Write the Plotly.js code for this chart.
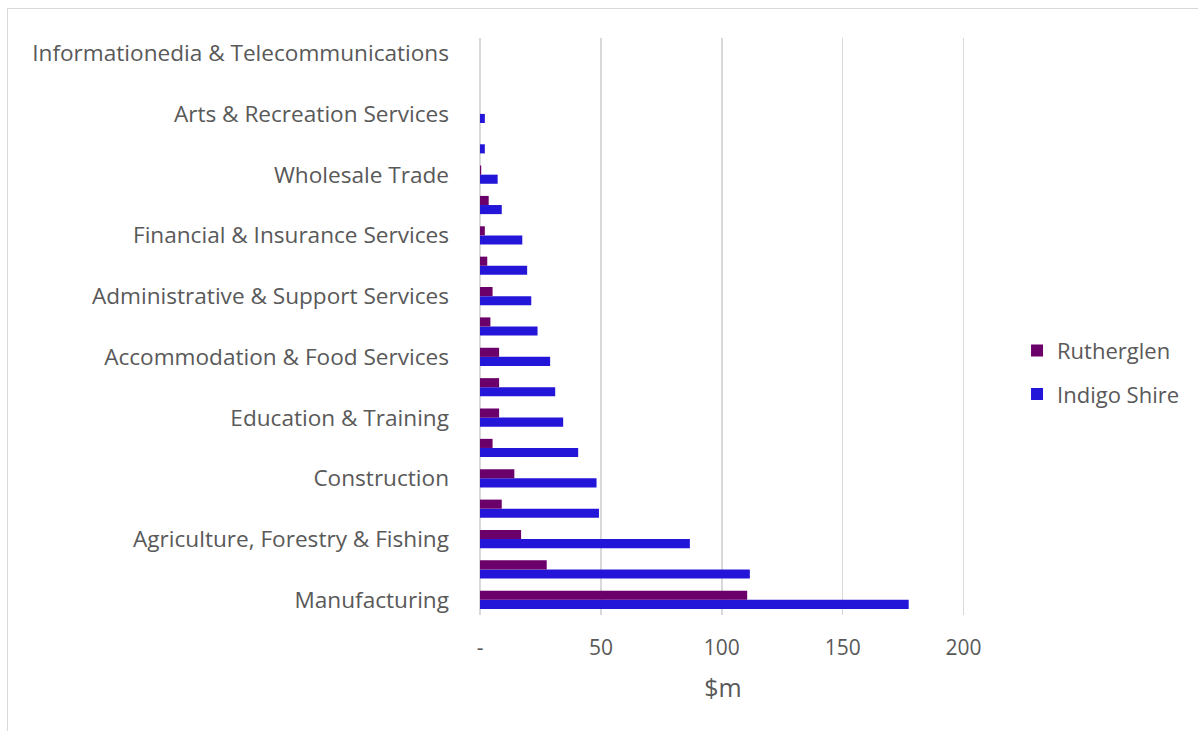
<!DOCTYPE html>
<html>
<head>
<meta charset="utf-8">
<script src="https://cdn.plot.ly/plotly-3.0.1.min.js"></script>
<style>
html,body{margin:0;padding:0;background:#fff;}
#chart{position:absolute;left:0;top:0;width:1198px;height:731px;}
#frame{position:absolute;left:7px;top:8px;width:1200px;height:740px;border:1px solid #d9d9d9;pointer-events:none;}
</style>
</head>
<body>
<div id="chart"></div>
<div id="frame"></div>
<script>
// Categories listed bottom to top
const categories = [
  "Manufacturing",
  "Rental, Hiring & Real Estate Services",
  "Agriculture, Forestry & Fishing",
  "Retail Trade",
  "Construction",
  "Public Administration & Safety",
  "Education & Training",
  "Health Care & Social Assistance",
  "Accommodation & Food Services",
  "Transport, Postal & Warehousing",
  "Administrative & Support Services",
  "Professional, Scientific & Technical Services",
  "Financial & Insurance Services",
  "Other Services",
  "Wholesale Trade",
  "Electricity, Gas, Water & Waste Services",
  "Arts & Recreation Services",
  "Mining",
  "Informationedia & Telecommunications"
];
const shownLabels = [
  "Manufacturing",
  "Agriculture, Forestry & Fishing",
  "Construction",
  "Education & Training",
  "Accommodation & Food Services",
  "Administrative & Support Services",
  "Financial & Insurance Services",
  "Wholesale Trade",
  "Arts & Recreation Services",
  "Informationedia & Telecommunications"
];
const rutherglen = [110.5, 27.6, 17.0, 9.0, 14.2, 5.2, 7.9, 7.9, 7.9, 4.3, 5.2, 3.0, 2.0, 3.6, 0.5, 0, 0, 0, 0];
const indigoShire = [177.3, 111.6, 86.8, 49.2, 48.2, 40.6, 34.4, 31.1, 29.0, 23.8, 21.2, 19.5, 17.5, 9.0, 7.3, 2.0, 2.0, 0, 0];
const xTickVals = [0, 50, 100, 150, 200];
const xTickText = ["-", "50", "100", "150", "200"];

const font = "'Open Sans', 'Noto Sans', sans-serif";
const grey = "#595959";

const data = [
  {
    type: "bar", orientation: "h", name: "Indigo Shire",
    y: categories, x: indigoShire,
    marker: {color: "#2416d9"},
    legendgroup: "b", legendrank: 2
  },
  {
    type: "bar", orientation: "h", name: "Rutherglen",
    y: categories, x: rutherglen,
    marker: {color: "#6c006b"},
    legendgroup: "a", legendrank: 1
  }
];

const layout = {
  width: 1198, height: 731,
  margin: {l: 480, r: 232, t: 38, b: 116, pad: 0},
  paper_bgcolor: "#ffffff",
  plot_bgcolor: "#ffffff",
  barmode: "group",
  bargap: 0.4,
  bargroupgap: 0,
  font: {family: font, color: grey, size: 22},
  xaxis: {
    range: [0, 201],
    tickvals: xTickVals,
    ticktext: xTickText,
    showgrid: true,
    gridcolor: "#d9d9d9",
    gridwidth: 1.5,
    zeroline: true,
    zerolinecolor: "#d9d9d9",
    zerolinewidth: 1.5,
    showline: false,
    ticks: "",
    ticklabelstandoff: 18,
    tickfont: {size: 21, color: grey},
    title: {text: "$m", font: {size: 25, color: grey}, standoff: 19}
  },
  yaxis: {
    type: "category",
    categoryorder: "array",
    categoryarray: categories,
    tickvals: shownLabels,
    ticktext: shownLabels,
    showgrid: false,
    zeroline: false,
    showline: false,
    ticks: "",
    ticklabelstandoff: 30,
    tickfont: {size: 22.6, color: grey},
    range: [-0.5, categories.length - 0.5]
  },
  showlegend: true,
  legend: {
    x: 1.105, xanchor: "left",
    y: 0.42, yanchor: "middle",
    traceorder: "grouped",
    tracegroupgap: 12,
    font: {size: 22, color: grey},
    itemwidth: 30,
    bgcolor: "rgba(0,0,0,0)"
  }
};

Plotly.newPlot("chart", data, layout, {displayModeBar: false, staticPlot: true});
</script>
</body>
</html>
